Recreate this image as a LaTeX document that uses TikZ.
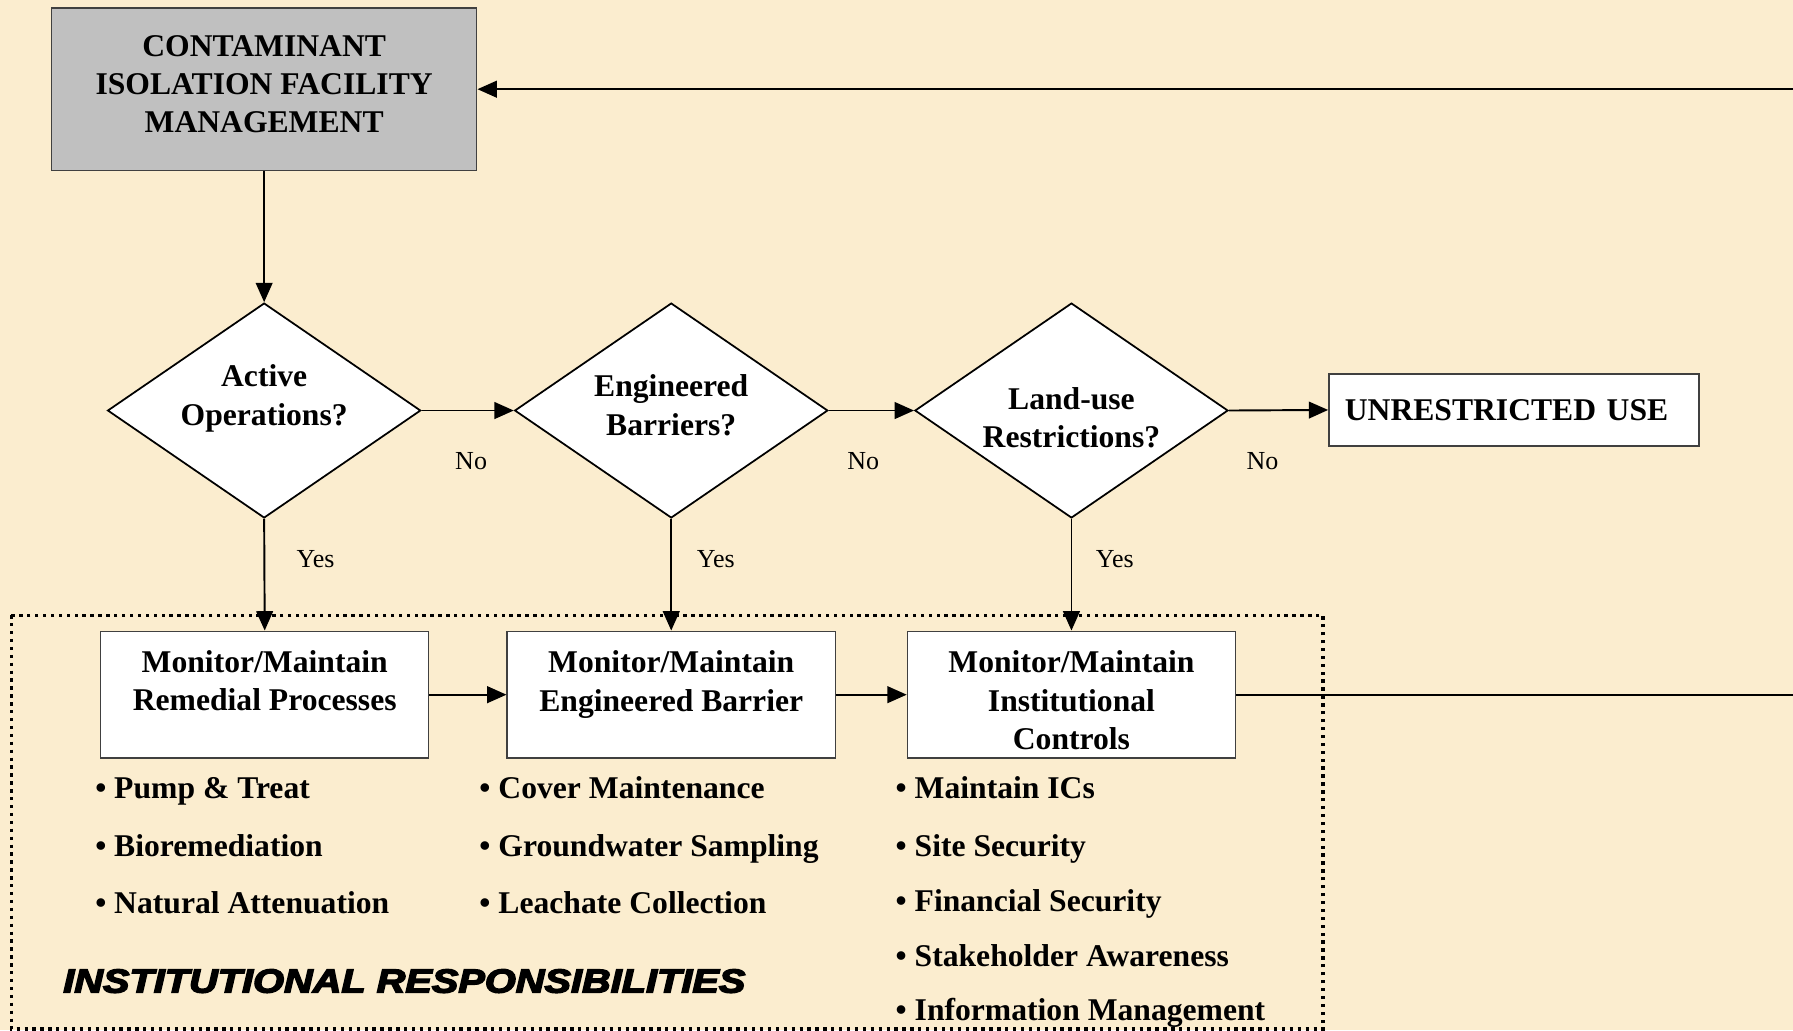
\documentclass[tikz,border=0pt]{standalone}
\usepackage{fontspec}
\setmainfont{Liberation Serif}
\newfontfamily\respfont{Liberation Sans}[BoldItalicFeatures={FakeBold=4}]
\usetikzlibrary{shapes.geometric,arrows.meta}
\definecolor{paper}{RGB}{251,237,207}
\definecolor{boxgray}{RGB}{192,192,192}

\tikzset{
  outline/.style={draw=black!75, line width=0.8pt},
  bigbox/.style={outline, fill=boxgray, minimum width=242pt, minimum height=92.4pt, inner sep=0pt},
  decision/.style={diamond, draw=black, line width=1pt, fill=white, aspect=1.46, minimum width=178.2pt, minimum height=122.3pt, inner sep=0pt},
  taskbox/.style={outline, fill=white, minimum width=186.7pt, minimum height=72.2pt, inner sep=0pt},
  endbox/.style={outline, fill=white, minimum height=41pt, text width=192.5pt, inner xsep=9.1pt, inner ysep=0pt, align=left, font=\fontsize{18}{21.8}\selectfont\bfseries},
  boldtxt/.style={inner sep=0pt, align=center, font=\fontsize{18}{21.8}\selectfont\bfseries},
  item/.style={inner sep=0pt, anchor=base west, font=\fontsize{18}{21.8}\selectfont\bfseries},
  answer/.style={inner sep=0pt, font=\fontsize{14.8}{17}\selectfont},
  arr/.style={line width=1.1pt, -{Triangle[length=11pt,width=9.5pt]}},
  link/.style={line width=1.1pt},
  respframe/.style={line width=1.9pt, dash pattern=on 1.9pt off 2.6pt}
}

\begin{document}
\begin{tikzpicture}[x=0.2287mm, y=-0.2287mm]
    \fill[paper] (0,0) rectangle (1568,901); %background
    \useasboundingbox (0,0) rectangle (1568,901);
    \draw[respframe] (10,538) rectangle (1157,900); %institutional responsibilities
    \node[bigbox] (mgmt) at (231,78) {};
    \node[boldtxt] (mgmttxt) at (231,73.5) {CONTAMINANT\\ISOLATION FACILITY\\MANAGEMENT};
    \node[decision] (actop) at (231,359) {};
    \node[boldtxt] (actoptxt) at (231,348.5) {Active\\Operations?};
    \node[decision] (engbar) at (587,359) {};
    \node[boldtxt] (engbartxt) at (587,354.5) {Engineered\\Barriers?};
    \node[decision] (landuse) at (937,359) {};
    \node[boldtxt] (landusetxt) at (937,365.5) {Land-use\\Restrictions?};
    \node[endbox] (unres) at (1324,358.5) {UNRESTRICTED USE};
    \node[taskbox] (remproc) at (231.5,607.5) {};
    \node[boldtxt] (remproctxt) at (231.5,595.5) {Monitor/Maintain\\Remedial Processes};
    \node[taskbox] (engmon) at (587,607.5) {};
    \node[boldtxt] (engmontxt) at (587,598.5) {Monitor/Maintain\\Engineered Barrier};
    \node[taskbox] (icmon) at (937,607.5) {};
    \node[boldtxt] (icmontxt) at (937,612.5) {Monitor/Maintain\\Institutional\\Controls};
    \coordinate (loopin) at (1568,78); %return from right edge
    \coordinate (loopout) at (1568,607.5); %exit to right edge
    \draw[arr] (loopin) -- (mgmt.east);
    \draw[arr] (mgmt.south) -- (actop.north);
    \draw[arr] (actop.east) -- (engbar.west);
    \draw[arr] (engbar.east) -- (landuse.west);
    \draw[arr] (landuse.east) -- (unres.west);
    \draw[arr] (actop.south) -- (remproc.north);
    \draw[arr] (engbar.south) -- (engmon.north);
    \draw[arr] (landuse.south) -- (icmon.north);
    \draw[arr] (remproc.east) -- (engmon.west);
    \draw[arr] (engmon.east) -- (icmon.west);
    \draw[link] (icmon.east) -- (loopout);
    \node[answer] (no1) at (412,403) {No};
    \node[answer] (no2) at (755,403) {No};
    \node[answer] (no3) at (1104,403) {No};
    \node[answer] (yes1) at (276,489) {Yes};
    \node[answer] (yes2) at (626,489) {Yes};
    \node[answer] (yes3) at (975,489) {Yes};
    \node[item] (pt) at (83,698) {• Pump \& Treat}; %remedial processes
    \node[item] (bio) at (83,749) {• Bioremediation};
    \node[item] (natt) at (83,799) {• Natural Attenuation};
    \node[item] (cover) at (419,698) {• Cover Maintenance}; %engineered barrier
    \node[item] (gw) at (419,749) {• Groundwater Sampling};
    \node[item] (leach) at (419,799) {• Leachate Collection};
    \node[item] (mic) at (783,698) {• Maintain ICs}; %institutional controls
    \node[item] (site) at (783,749) {• Site Security};
    \node[item] (fin) at (783,797) {• Financial Security};
    \node[item] (stake) at (783,845) {• Stakeholder Awareness};
    \node[item] (info) at (783,892) {• Information Management};
    \node[inner sep=0pt, anchor=base west] (resp) at (55,868)
        {\scalebox{1.19}[1]{\respfont\fontsize{19}{22}\selectfont\bfseries\itshape INSTITUTIONAL RESPONSIBILITIES}};
\end{tikzpicture}
\end{document}
